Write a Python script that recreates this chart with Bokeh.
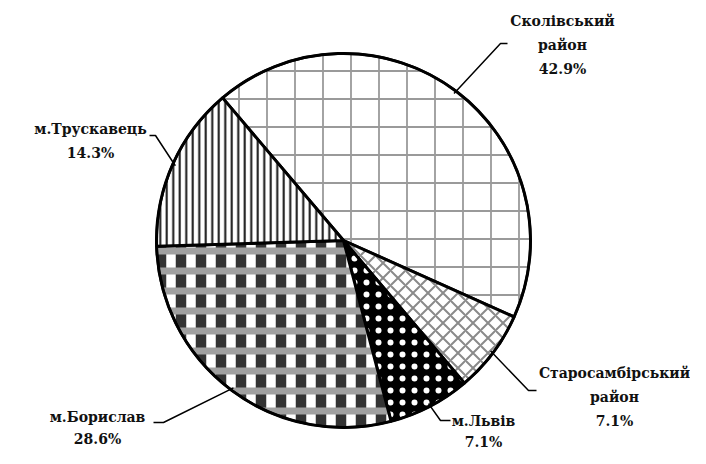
import math
from bokeh.plotting import figure
from bokeh.models import Range1d, ColumnDataSource
from bokeh.core.properties import value
from bokeh.embed import file_html
from bokeh.resources import INLINE

# ---- data ----
categories = ["Сколівський район", "Старосамбірський район", "м.Львів", "м.Борислав", "м.Трускавець"]
label_lines = [["Сколівський", "район"], ["Старосамбірський", "район"], ["м.Львів"], ["м.Борислав"], ["м.Трускавець"]]
shares = [42.9, 7.1, 7.1, 28.6, 14.3]
pct_labels = ["42.9%", "7.1%", "7.1%", "28.6%", "14.3%"]

# ---- styles / layout (screen pixel coordinates) ----
W, H = 690, 448
CX, CY, R = 343, 240, 187
START_DEG = 130.3
fills = ["white", "white", "black", "#333333", "white"]
hatches = ["cross", "diagonal_cross", "dot", "vertical_line", "vertical_line"]
hatch_colors = ["#9a9a9a", "#8a8a8a", "white", "white", "#111111"]
hatch_scales = [28, 15, 12, 20, 6.5]
hatch_weights = [1.8, 2.0, 1.0, 9.5, 2.0]
label_pos = [(562, 20), (614, 372), (483, 420), (97, 416), (90, 128)]
line_h = [24, 24, 21, 22, 24]
leader_elbow = [[(500, 43), (507, 43)], [(528, 390), (536, 390)], [(440, 420), (450, 420)],
                [(163, 422), (153, 422)], [(155, 135), (149, 135)]]


def Y(sy):
    return 464 - sy


p = figure(width=W, height=H, output_backend="svg", toolbar_location=None,
           x_range=Range1d(0, W), y_range=Range1d(Y(H), Y(0)),
           min_border=0, outline_line_color=None)
p.axis.visible = False
p.grid.visible = False
p.background_fill_color = "white"

total = sum(shares)
cum = 0.0
mids = []
for i, s in enumerate(shares):
    a0 = math.radians(START_DEG) - cum / total * 2 * math.pi
    cum += s
    a1 = math.radians(START_DEG) - cum / total * 2 * math.pi
    mids.append((a0 + a1) / 2)
    p.wedge(x=CX, y=Y(CY), radius=R, start_angle=a1, end_angle=a0,
            fill_color=fills[i], line_color=None,
            hatch_pattern=hatches[i], hatch_color=hatch_colors[i],
            hatch_scale=hatch_scales[i], hatch_weight=hatch_weights[i])
    if categories[i] == "м.Борислав":
        # gray horizontal bands of the plaid pattern
        p.wedge(x=CX, y=Y(CY), radius=R, start_angle=a1, end_angle=a0,
                fill_alpha=0, line_color=None,
                hatch_pattern="horizontal_line", hatch_color="#a0a0a0",
                hatch_scale=20, hatch_weight=7)
    p.wedge(x=CX, y=Y(CY), radius=R, start_angle=a1, end_angle=a0,
            fill_alpha=0, line_color="black", line_width=3)

# outer circle
p.circle(x=CX, y=Y(CY), radius=R, fill_color=None, line_color="black", line_width=2.5)

# leader lines
for i, m in enumerate(mids):
    sx = CX + (R - 3) * math.cos(m)
    sy = CY - (R - 3) * math.sin(m)
    xs = [sx] + [e[0] for e in leader_elbow[i]]
    ys = [Y(sy)] + [Y(e[1]) for e in leader_elbow[i]]
    p.line(xs, ys, line_color="black", line_width=1.5)

# labels
tx, ty, tt = [], [], []
for i in range(len(categories)):
    lines = label_lines[i] + [pct_labels[i]]
    x0, y0 = label_pos[i]
    for k, t in enumerate(lines):
        tx.append(x0)
        ty.append(Y(y0 + k * line_h[i]))
        tt.append(t)
src = ColumnDataSource(dict(x=tx, y=ty, t=tt))
p.text(x="x", y="y", text="t", source=src, text_align="center", text_baseline="middle",
       text_font=value("DejaVu Serif"), text_font_style="bold", text_font_size="14px",
       text_color="#111111")

open("out.html", "w").write(file_html(p, INLINE))
